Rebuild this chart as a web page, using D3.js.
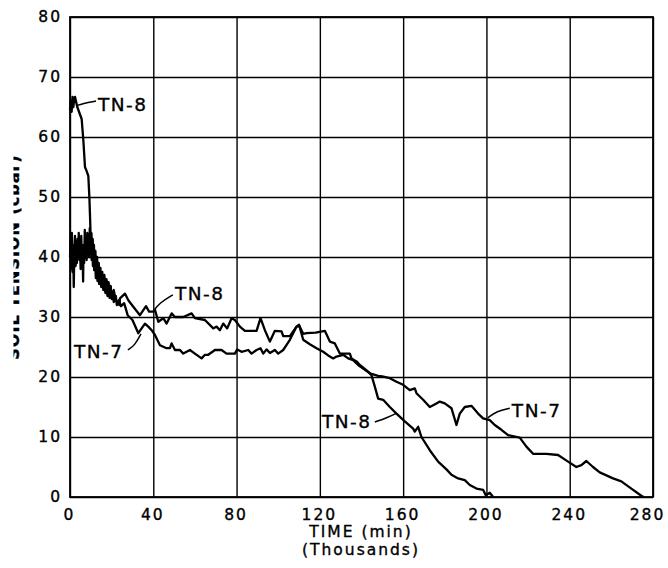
<!DOCTYPE html>
<html>
<head>
<meta charset="utf-8">
<script src="https://cdn.jsdelivr.net/npm/d3@7"></script>
<style>
  body { margin: 0; background: #fff; }
  text { font-family: "DejaVu Sans", sans-serif; fill: #000; stroke: #000; stroke-width: 0.35px; }
</style>
</head>
<body>
<div id="chart"></div>
<script>
// time in thousands of minutes, soil tension in cbar
var tn7Time = [0, 0.3, 0.6, 0.9, 1.2, 1.5, 1.8, 2.1, 2.4, 2.7, 3.0, 3.3, 3.6, 3.9, 4.2, 4.5, 4.8, 5.1, 5.4, 5.7,
    6.0, 6.3, 6.5, 6.8, 7.1, 7.4, 7.7, 8.0, 8.3, 8.6, 8.9, 9.2, 9.5, 9.8, 10.1, 10.4, 10.7, 11.0, 11.3, 11.6,
    12.0, 12.4, 12.8, 13.2, 13.6, 14.0, 14.5, 15.0, 15.5, 16.0, 16.5, 17.0, 17.5, 18.0, 18.5, 19.0, 19.5, 20.0,
    20.5, 21.0, 22.0, 22.5, 23.5, 24.5, 26.0, 27.7, 30.0, 32.8, 34.4, 36.0, 37.6, 39.2, 40.8, 43.2, 46.4, 48.0,
    48.8, 50.4, 52.8, 54.4, 57.6, 60.0, 63.2, 64.8, 66.4, 69.6, 72.8, 75.2, 79.2, 80.3, 82.4, 85.6, 87.2, 89.6,
    91.5, 92.8, 94.4, 96.0, 98.4, 100.0, 102.4, 105.6, 108.8, 110.0, 112.0, 115.0, 118.4, 121.6, 124.0, 126.4,
    128.0, 131.2, 133.6, 136.0, 138.4, 140.8, 144.0, 148.0, 150.0, 153.6, 156.8, 160.0, 163.2, 165.6, 166.4,
    169.6, 172.8, 176.0, 177.6, 180.0, 183.2, 185.6, 187.2, 189.6, 192.8, 196.0, 198.4, 201.6, 204.0, 207.2,
    210.4, 216.0, 219.2, 222.4, 228.8, 234.4, 239.2, 243.2, 245.6, 248.0, 251.2, 254.4, 260.8, 264.8, 269.6,
    274.4, 275.5];
var tn7Tension = [40, 43, 38, 44, 37.5, 42, 35, 41, 43.5, 38.5, 42.5, 39, 43, 40, 44, 39.5, 42, 38, 43.5, 40,
    41, 35.9, 42, 39, 44.5, 40.5, 43, 39.5, 44, 41, 43.5, 40, 44.8, 41, 43.5, 39.5, 42.5, 38.5, 41.5, 37.8,
    40, 36.5, 39, 36, 38.5, 35.5, 37.5, 35, 37, 34.5, 36.5, 34, 36, 33.5, 35.5, 33.2, 35, 33,
    34.2, 32.5, 33.5, 32, 32.8, 31.8, 32.3, 30.3, 29.5, 27.3, 28.1, 28.9, 28.4, 27.8, 27, 25.3, 24.8, 24.8,
    25.6, 24.5, 24.5, 23.9, 24.5, 23.9, 23.1, 23.7, 23.7, 24.5, 24.5, 23.9, 23.9, 24.6, 24.2, 24.5, 23.9, 24.5,
    24.8, 23.9, 24.6, 24, 24.5, 23.9, 24.5, 26.2, 28.4, 28.7, 26.2, 25.5, 24.8, 24.2, 23.6, 23.1,
    23.4, 23.7, 23.1, 22.8, 22, 21.4, 20.6, 20.2, 20.1, 19.8, 19.2, 18.7, 17.8, 18.1, 17.3,
    16.2, 15, 15.6, 15.9, 15.6, 14.8, 12, 13.9, 15, 15.2, 13.9, 13.1, 12.8, 12, 11.2,
    10.3, 9.9, 8.4, 7.2, 7.2, 7, 5.9, 5, 5.3, 6, 5, 4.1, 3.1, 2.6, 1.4,
    0.2, 0];

var tn8Time = [0, 0.4, 0.8, 1.2, 1.6, 2.0, 2.4, 3.5, 5.6, 6.4, 7.2, 8.0, 8.8, 9.3, 9.6, 9.9,
    10.3, 10.6, 10.9, 11.2, 11.5, 11.8, 12.2, 12.6, 13.0, 13.4, 13.8, 14.2, 14.6, 15.0, 15.5, 16.0, 16.5,
    17.0, 17.5, 18.0, 18.5, 19.0, 19.5, 20.0, 21.0, 22.0, 23.7, 24.0, 26.4, 28.0, 30.4, 33.6, 36.5, 38.0,
    40.0, 40.8, 42.4, 44.8, 46.4, 48.8, 50.4, 54.4, 58.4, 60.0, 64.8, 68.8, 70.4, 72.0, 73.6, 75.5, 77.6,
    79.2, 81.6, 84.0, 89.6, 91.5, 93.6, 96.0, 98.4, 101.6, 102.4, 105.6, 108.8, 110.2, 112.0, 113.6, 118.0,
    122.4, 124.8, 127.2, 129.6, 134.4, 135.2, 137.6, 139.2, 143.2, 144.8, 146.4, 148.0, 150.4, 153.6, 156.8,
    160.8, 164.8, 165.6, 167.2, 168.8, 172.8, 176.8, 180.8, 183.2, 186.4, 189.6, 192.0, 195.2, 198.4, 199.7,
    201.6, 203.2];
var tn8Tension = [64.5, 66, 64.2, 66.7, 65, 66.2, 66.7, 65, 63, 59.5, 55, 54.3, 53.5, 50, 47, 43.5,
    44, 40.5, 43, 39.5, 42, 38.5, 41, 37.5, 40, 36.8, 39, 36, 38.2, 35.5, 37.5, 34.8, 37,
    34.3, 36.3, 33.8, 35.8, 33.5, 35.2, 33.2, 34.5, 32.8, 32, 33.1, 33.9, 32.8, 31.7, 30.3, 31.8, 30.9,
    30.9, 31.2, 29.2, 29.8, 28.9, 30.6, 30, 30, 30.6, 29.8, 29.5, 28.1, 28.4, 27.8, 28.9, 28.1, 29.8,
    29.5, 28.4, 27.7, 27.7, 29.8, 27.8, 25.9, 27.7, 27.6, 26.8, 26.8, 28.4, 28.5, 27.2, 27.3, 27.4,
    27.7, 25.9, 25.6, 23.9, 23.9, 23.1, 22.6, 22, 20.9, 20.3, 18.4, 16.4, 16.2, 15, 13.9,
    12.6, 11.4, 10.9, 11.7, 10, 7.8, 5.9, 4.6, 3.7, 3.1, 2.8, 2, 1.4, 1.2, 0.3,
    0.7, 0];

var xTicks = [0, 40, 80, 120, 160, 200, 240, 280];
var yTicks = [0, 10, 20, 30, 40, 50, 60, 70, 80];

// curve labels: where the text starts and the leader line points
var labelNames = ["TN-8", "TN-8", "TN-7", "TN-8", "TN-7"];
var labelAt = [[13.4, 64.3], [50.4, 32.8], [1.9, 23.2], [121, 11.5], [212.2, 13.4]];
var leaders = [
    [[12.5, 66], [6.2, 65.6], [2.9, 65.2]],
    [[49.4, 33.7], [43.2, 32.4], [39.8, 30.9]],
    [[27.8, 24.5], [31.2, 25.3], [34.1, 27.2]],
    [[146.4, 12.5], [152.2, 13.2], [157, 14]],
    [[211.2, 14.8], [205, 14.3], [200.7, 13.2]]
];

var margin = {top: 17, right: 15, bottom: 71, left: 70},
    width = 668 - margin.left - margin.right,
    height = 568 - margin.top - margin.bottom;

var root = d3.select("#chart")
    .append("svg")
    .attr("width", 668)
    .attr("height", 568);

var svg = root.append("g")
    .attr("transform", "translate(" + margin.left + "," + margin.top + ")");

var x = d3.scaleLinear().domain([0, 280]).range([0, width]);
var y = d3.scaleLinear().domain([0, 80]).range([height, 0]);

// grid + tick labels
var xAxis = svg.append("g")
    .attr("transform", "translate(0," + height + ")")
    .call(d3.axisBottom(x).tickValues(xTicks).tickSizeInner(-height).tickSizeOuter(0).tickPadding(12));
var yAxis = svg.append("g")
    .call(d3.axisLeft(y).tickValues(yTicks).tickSizeInner(-width).tickSizeOuter(0).tickPadding(8));

[xAxis, yAxis].forEach(function(a) {
    a.select(".domain").remove();
    a.selectAll(".tick line").attr("stroke", "#000").attr("stroke-width", 1.4);
    a.selectAll(".tick text")
        .style("font-family", "'DejaVu Sans', sans-serif")
        .style("font-size", "15.5px")
        .style("letter-spacing", "2px")
        .attr("fill", "#000");
});
xAxis.selectAll(".tick text").attr("dx", function(d) { return d === 280 ? "-6px" : "-1px"; });

svg.append("rect")
    .attr("width", width)
    .attr("height", height)
    .attr("fill", "none")
    .attr("stroke", "#000")
    .attr("stroke-width", 1.8);

// the two tensiometer records
var line = d3.line()
    .x(function(d) { return x(d[0]); })
    .y(function(d) { return y(d[1]); });

var tn7 = d3.zip(tn7Time, tn7Tension);
var tn8 = d3.zip(tn8Time, tn8Tension);

[tn7, tn8].forEach(function(s) {
    svg.append("path")
        .datum(s)
        .attr("fill", "none")
        .attr("stroke", "#000")
        .attr("stroke-width", 2.3)
        .attr("stroke-linejoin", "round")
        .attr("d", line);
});

// labels with leader lines
var leader = d3.line()
    .x(function(d) { return x(d[0]); })
    .y(function(d) { return y(d[1]); })
    .curve(d3.curveBasis);

leaders.forEach(function(pts) {
    svg.append("path")
        .attr("d", leader(pts))
        .attr("fill", "none")
        .attr("stroke", "#000")
        .attr("stroke-width", 1.5);
});

labelNames.forEach(function(name, i) {
    svg.append("text")
        .attr("x", x(labelAt[i][0]))
        .attr("y", y(labelAt[i][1]))
        .style("font-size", "18.5px")
        .style("letter-spacing", "1.5px")
        .text(name);
});

// axis titles
root.append("text")
    .attr("x", 361)
    .attr("y", 537)
    .attr("text-anchor", "middle")
    .style("font-size", "15.5px")
    .style("letter-spacing", "2px")
    .text("TIME (min)");
root.append("text")
    .attr("x", 361)
    .attr("y", 555)
    .attr("text-anchor", "middle")
    .style("font-size", "15.5px")
    .style("letter-spacing", "2px")
    .text("(Thousands)");

// y title is cut off by the page edge in the scan
root.append("clipPath")
    .attr("id", "edge")
    .append("rect")
    .attr("x", 13.5)
    .attr("y", 0)
    .attr("width", 654)
    .attr("height", 568);
root.append("g")
    .attr("clip-path", "url(#edge)")
    .append("text")
    .attr("transform", "translate(18.5,257) rotate(-90)")
    .attr("text-anchor", "middle")
    .style("font-size", "16px")
    .style("font-weight", "bold")
    .style("letter-spacing", "1px")
    .text("SOIL TENSION (cbar)");
</script>
</body>
</html>
